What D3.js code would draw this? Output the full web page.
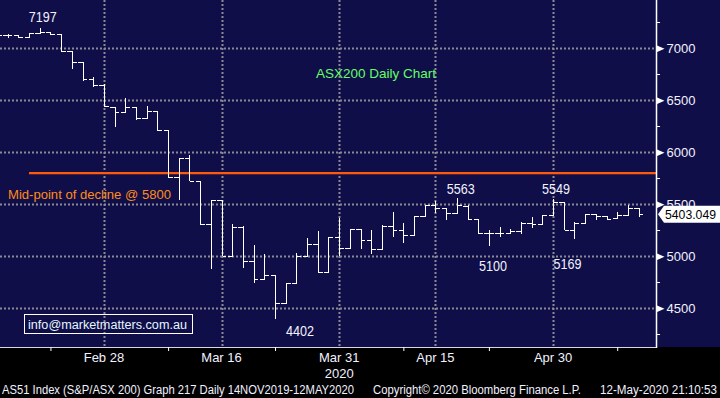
<!DOCTYPE html>
<html>
  <head>
    <meta charset="utf-8">
    <script src="https://d3js.org/d3.v7.min.js"></script>
    <title>ASX200 Daily Chart</title>
    <style>
      body { margin: 0px; background: #000000; }
      svg { display: block; }
      text { font-family: Arial, 'Liberation Sans', sans-serif; }
      .ylab { fill: #f2f2ff; font-size: 13px; }
      .xlab { fill: #f2f2ff; font-size: 13px; }
      .note { fill: #f2f2ff; font-size: 15px; }
      .foot { fill: #f2f2ff; font-size: 12px; }
    </style>
  </head>
  <body>
    <script>
      // trading days shown (ASX, Easter holidays skipped)
      const dates = [
        '2020-02-14',
        '2020-02-17','2020-02-18','2020-02-19','2020-02-20','2020-02-21',
        '2020-02-24','2020-02-25','2020-02-26','2020-02-27','2020-02-28',
        '2020-03-02','2020-03-03','2020-03-04','2020-03-05','2020-03-06',
        '2020-03-09','2020-03-10','2020-03-11','2020-03-12','2020-03-13',
        '2020-03-16','2020-03-17','2020-03-18','2020-03-19','2020-03-20',
        '2020-03-23','2020-03-24','2020-03-25','2020-03-26','2020-03-27',
        '2020-03-30','2020-03-31','2020-04-01','2020-04-02','2020-04-03',
        '2020-04-06','2020-04-07','2020-04-08','2020-04-09',
        '2020-04-14','2020-04-15','2020-04-16','2020-04-17',
        '2020-04-20','2020-04-21','2020-04-22','2020-04-23','2020-04-24',
        '2020-04-27','2020-04-28','2020-04-29','2020-04-30','2020-05-01',
        '2020-05-04','2020-05-05','2020-05-06','2020-05-07','2020-05-08',
        '2020-05-11','2020-05-12'
      ];
      const open = [
        7128,
        7125, 7125, 7106, 7144, 7157,
        7134, 6971, 6865, 6702, 6650,
        6433, 6385, 6433, 6327, 6394,
        6212, 5760, 5942, 5724, 5308,
        5538, 5003, 5285, 4955, 4779,
        4817, 4548, 4740, 5003, 5115,
        4846, 5183, 5077, 5260, 5154,
        5067, 5288, 5250, 5205,
        5388, 5493, 5462, 5413,
        5487, 5356, 5221, 5221, 5221,
        5240, 5317, 5308, 5400, 5519,
        5253, 5317, 5407, 5388, 5365,
        5400, 5462
      ];
      const high = [
        7140,
        7137, 7128, 7146, 7197, 7160,
        7136, 6975, 6868, 6724, 6652,
        6435, 6519, 6436, 6445, 6396,
        6214, 5942, 5974, 5726, 5538,
        5540, 5308, 5287, 5106, 5022,
        4819, 4740, 5029, 5173, 5245,
        5183, 5365, 5265, 5262, 5250,
        5298, 5423, 5323, 5388,
        5493, 5535, 5464, 5563,
        5489, 5358, 5253, 5279, 5260,
        5327, 5375, 5400, 5549, 5521,
        5327, 5407, 5409, 5390, 5426,
        5493, 5464
      ];
      const low = [
        7115,
        7106, 7102, 7104, 7140, 7134,
        6971, 6808, 6692, 6631, 6438,
        6246, 6383, 6317, 6325, 6212,
        5760, 5548, 5724, 5301, 4885,
        5003, 5001, 4891, 4746, 4777,
        4402, 4546, 4738, 5001, 4846,
        4844, 5003, 5075, 5073, 5029,
        5065, 5189, 5131, 5203,
        5386, 5420, 5349, 5411,
        5356, 5221, 5100, 5189, 5219,
        5221, 5275, 5306, 5398, 5253,
        5169, 5315, 5356, 5356, 5363,
        5398, 5381
      ];
      const close = [
        7125,
        7125, 7106, 7144, 7157, 7134,
        6971, 6865, 6702, 6650, 6445,
        6385, 6433, 6327, 6394, 6212,
        5760, 5942, 5724, 5308, 5538,
        5003, 5285, 4955, 4779, 4817,
        4548, 4740, 5003, 5115, 4846,
        5183, 5077, 5260, 5154, 5067,
        5288, 5250, 5205, 5388,
        5493, 5462, 5413, 5493,
        5356, 5221, 5221, 5221, 5240,
        5317, 5308, 5400, 5519, 5253,
        5317, 5407, 5388, 5362, 5400,
        5462, 5403.049
      ];

      const yTicks = [4500, 5000, 5500, 6000, 6500, 7000];
      const yMinorTicks = [4250, 4750, 5250, 5750, 6250, 6750, 7250];
      const xTickDates = ['2020-02-28', '2020-03-16', '2020-03-31', '2020-04-15', '2020-04-30'];
      const xTickLabels = ['Feb 28', 'Mar 16', 'Mar 31', 'Apr 15', 'Apr 30'];
      const xMinorDates = ['2020-02-21', '2020-03-09', '2020-03-23', '2020-04-08', '2020-04-22', '2020-05-08'];

      const midPoint = 5800;
      const lastPrice = 5403.049;
      const noteTexts = ['7197', '5563', '5549', '5100', '5169', '4402'];
      const noteDates = ['2020-02-20', '2020-04-17', '2020-04-30', '2020-04-22', '2020-05-04', '2020-03-23'];
      const noteValues = [7197, 5563, 5549, 5100, 5169, 4402];
      // label offset from the bar extreme (px)
      const noteOffsets = [[3, -6], [4, -4], [3, -5], [4, 25], [-7, 30], [25, 17.5]];

      const width = 720, height = 398;
      const plotW = 656, plotH = 347;

      const svg = d3.select('body').append('svg')
        .attr('width', width)
        .attr('height', height);

      svg.append('rect')
        .attr('width', width).attr('height', height)
        .attr('fill', '#000000');
      svg.append('rect')
        .attr('width', width).attr('height', plotH)
        .attr('fill', '#100e48');

      const x = d3.scalePoint()
        .domain(dates)
        .range([-3, 638.6]);
      const y = d3.scaleLinear()
        .domain([4128, 7464])
        .range([plotH, 0]);

      svg.append('clipPath').attr('id', 'plotclip')
        .append('rect').attr('width', plotW).attr('height', plotH);

      const g = svg.append('g').attr('clip-path', 'url(#plotclip)');
      const px = v => Math.round(v) + 0.5;

      // dotted grid
      g.selectAll('.hgrid').data(yTicks).enter().append('line')
        .attr('x1', 0).attr('x2', plotW)
        .attr('y1', d => px(y(d))).attr('y2', d => px(y(d)))
        .attr('stroke', '#8a8a96').attr('stroke-width', 2)
        .attr('stroke-dasharray', '2,2');
      g.selectAll('.vgrid').data(xTickDates).enter().append('line')
        .attr('x1', d => px(x(d))).attr('x2', d => px(x(d)))
        .attr('y1', 0).attr('y2', plotH)
        .attr('stroke', '#8a8a96').attr('stroke-width', 2)
        .attr('stroke-dasharray', '2,2');

      // mid-point line
      g.append('line')
        .attr('x1', 29).attr('x2', plotW)
        .attr('y1', y(midPoint)).attr('y2', y(midPoint))
        .attr('stroke', '#ff5a0a').attr('stroke-width', 2.2);

      // OHLC bars
      const bars = g.selectAll('.bar').data(dates).enter().append('g')
        .attr('stroke', '#ffffff').attr('stroke-width', 1.3)
        .attr('shape-rendering', 'crispEdges');
      bars.append('line')
        .attr('x1', (d) => px(x(d))).attr('x2', (d) => px(x(d)))
        .attr('y1', (d, i) => y(high[i])).attr('y2', (d, i) => y(low[i]) + 0.5);
      bars.append('line')
        .attr('x1', d => x(d) - 4.5).attr('x2', d => px(x(d)))
        .attr('y1', (d, i) => px(y(open[i]))).attr('y2', (d, i) => px(y(open[i])));
      bars.append('line')
        .attr('x1', d => px(x(d))).attr('x2', d => x(d) + 4.8)
        .attr('y1', (d, i) => px(y(close[i]))).attr('y2', (d, i) => px(y(close[i])));

      // texts inside the plot
      svg.append('text')
        .attr('x', 316).attr('y', 78)
        .attr('fill', '#62ff62').style('font-size', '13.5px')
        .text('ASX200 Daily Chart');

      svg.append('text')
        .attr('x', 8).attr('y', 199)
        .attr('fill', '#ff8c1a').style('font-size', '12.5px')
        .attr('textLength', 163).attr('lengthAdjust', 'spacingAndGlyphs')
        .text('Mid-point of decline @ 5800');

      svg.selectAll('.note').data(noteTexts).enter().append('text')
        .attr('class', 'note')
        .attr('text-anchor', 'middle')
        .attr('x', (d, i) => x(noteDates[i]) + noteOffsets[i][0])
        .attr('y', (d, i) => y(noteValues[i]) + noteOffsets[i][1])
        .attr('textLength', 28).attr('lengthAdjust', 'spacingAndGlyphs')
        .text(d => d);

      svg.append('rect')
        .attr('x', 24.5).attr('y', 314.5).attr('width', 168).attr('height', 19)
        .attr('fill', 'none').attr('stroke', '#ffffff').attr('stroke-width', 1);
      svg.append('text')
        .attr('x', 28).attr('y', 328.5)
        .attr('fill', '#e4f6ff').style('font-size', '12.5px')
        .attr('textLength', 159).attr('lengthAdjust', 'spacingAndGlyphs')
        .text('info@marketmatters.com.au');

      // right axis
      const yAxisG = svg.append('g').attr('transform', `translate(${plotW + 0.5},0)`);
      yAxisG.call(d3.axisRight(y).tickValues(yTicks).tickSize(0).tickPadding(10)
        .tickFormat(d3.format('d')));
      yAxisG.select('.domain').remove();
      yAxisG.selectAll('.tick text').attr('class', 'ylab').attr('fill', null)
        .attr('font-size', null).attr('font-family', null);
      yAxisG.selectAll('.tick').append('path')
        .attr('d', 'M0,-3.5L8,0L0,3.5Z').attr('fill', '#ffffff');

      const yMinorG = svg.append('g').attr('transform', `translate(${plotW},0)`);
      yMinorG.call(d3.axisRight(y).tickValues(yMinorTicks).tickSize(4).tickFormat(''));
      yMinorG.select('.domain').remove();
      yMinorG.selectAll('.tick line').attr('stroke', '#ffffff')
        .attr('shape-rendering', 'crispEdges');

      svg.append('line')
        .attr('x1', plotW + 0.5).attr('x2', plotW + 0.5)
        .attr('y1', 0).attr('y2', plotH + 1)
        .attr('stroke', '#ffffff').attr('stroke-width', 1.5);

      // last price tag
      const ly = y(lastPrice);
      svg.append('path')
        .attr('d', `M${plotW + 2},${ly} L${plotW + 8},${ly - 8.5} H720 V${ly + 8.5} H${plotW + 8} Z`)
        .attr('fill', '#ffffff');
      svg.append('text')
        .attr('x', 665).attr('y', ly + 4.5)
        .attr('fill', '#000000').style('font-size', '13px')
        .attr('textLength', 51).attr('lengthAdjust', 'spacingAndGlyphs')
        .text('5403.049');

      // bottom axis
      svg.append('line')
        .attr('x1', 0).attr('x2', plotW)
        .attr('y1', plotH + 0.5).attr('y2', plotH + 0.5)
        .attr('stroke', '#d8d8e0').attr('stroke-width', 1);

      const xAxisG = svg.append('g').attr('transform', `translate(0,${plotH})`);
      xAxisG.call(d3.axisBottom(x).tickValues(xMinorDates).tickSize(4).tickFormat(''));
      xAxisG.select('.domain').remove();
      xAxisG.selectAll('.tick line').attr('stroke', '#ffffff');

      svg.selectAll('.xlab').data(xTickDates).enter().append('text')
        .attr('class', 'xlab')
        .attr('text-anchor', 'middle')
        .attr('x', d => x(d))
        .attr('y', 362)
        .text((d, i) => xTickLabels[i]);
      svg.append('text')
        .attr('class', 'xlab').attr('text-anchor', 'middle')
        .attr('x', x('2020-03-31')).attr('y', 377.5)
        .text('2020');

      // footer
      svg.append('text').attr('class', 'foot')
        .attr('x', 2).attr('y', 394)
        .attr('textLength', 352).attr('lengthAdjust', 'spacingAndGlyphs')
        .text('AS51 Index (S&P/ASX 200) Graph 217  Daily 14NOV2019-12MAY2020');
      svg.append('text').attr('class', 'foot')
        .attr('x', 373).attr('y', 394)
        .attr('textLength', 208).attr('lengthAdjust', 'spacingAndGlyphs')
        .text('Copyright\u00A9 2020 Bloomberg Finance L.P.');
      svg.append('text').attr('class', 'foot')
        .attr('x', 600).attr('y', 394)
        .attr('textLength', 117).attr('lengthAdjust', 'spacingAndGlyphs')
        .text('12-May-2020 21:10:53');
    </script>
  </body>
</html>
